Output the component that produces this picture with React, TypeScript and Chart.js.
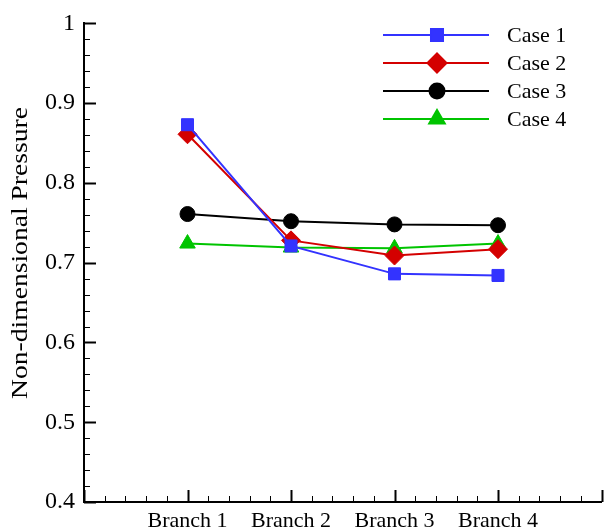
import React, { useEffect, useRef } from "react";
import { Chart, registerables } from "chart.js";
import { drawPoint } from "chart.js/helpers";

Chart.register(...registerables);

const categories = ["Branch 1", "Branch 2", "Branch 3", "Branch 4"];
const seriesNames = ["Case 1", "Case 2", "Case 3", "Case 4"];
const case1 = [0.873, 0.721, 0.686, 0.684];
const case2 = [0.861, 0.728, 0.709, 0.717];
const case3 = [0.761, 0.752, 0.748, 0.747];
const case4 = [0.724, 0.719, 0.718, 0.724];
const yTicks = [0.4, 0.5, 0.6, 0.7, 0.8, 0.9, 1];

const colors = ["#3333ff", "#d40000", "#000000", "#00c400"];
const styles = ["rect", "rectRot", "circle", "triangle"];
const radii = [8.5, 9.5, 7.5, 9];
const FONT = "'Liberation Serif', 'Times New Roman', serif";

const toPoints = (arr: number[]) => arr.map((y, i) => ({ x: i + 1, y }));

const customPlugin = {
  id: "custom",
  afterDraw(chart: any) {
    const ctx = chart.ctx;
    const xs = chart.scales.x;
    const ys = chart.scales.y;
    const area = chart.chartArea;
    ctx.save();
    ctx.strokeStyle = "#000";
    for (let k = 0; k <= 25; k++) {
      const v = k * 0.2;
      const px = Math.round(xs.getPixelForValue(v)) + 0.5;
      const major = k % 5 === 0;
      ctx.lineWidth = major ? 2 : 1;
      ctx.beginPath();
      ctx.moveTo(px, area.bottom);
      ctx.lineTo(px, area.bottom - (major ? 12 : 6));
      ctx.stroke();
    }
    for (let k = 0; k <= 30; k++) {
      const v = 0.4 + k * 0.02;
      const py = Math.round(ys.getPixelForValue(v)) + 0.5;
      const major = k % 5 === 0;
      ctx.lineWidth = major ? 2 : 1;
      ctx.beginPath();
      ctx.moveTo(area.left, py);
      ctx.lineTo(area.left + (major ? 12 : 6), py);
      ctx.stroke();
    }
    ctx.save();
    ctx.translate(27, 253);
    ctx.rotate(-Math.PI / 2);
    ctx.scale(1.2, 1);
    ctx.font = `23px ${FONT}`;
    ctx.fillStyle = "#000";
    ctx.textAlign = "center";
    ctx.textBaseline = "alphabetic";
    ctx.fillText("Non-dimensional Pressure", 0, 0);
    ctx.restore();
    const rows = [35, 63, 91, 119];
    chart.data.datasets.forEach((ds: any, i: number) => {
      const y = rows[i];
      ctx.strokeStyle = ds.borderColor;
      ctx.lineWidth = 2;
      ctx.beginPath();
      ctx.moveTo(383, y);
      ctx.lineTo(489, y);
      ctx.stroke();
      ctx.fillStyle = ds.backgroundColor;
      drawPoint(
        ctx,
        { pointStyle: ds.pointStyle, radius: ds.pointRadius, rotation: 0, borderWidth: 1 },
        437,
        y
      );
      ctx.fillStyle = "#000";
      ctx.font = `22px ${FONT}`;
      ctx.textAlign = "left";
      ctx.textBaseline = "middle";
      ctx.fillText(ds.label, 507, y + 1);
    });
    ctx.restore();
  },
};

export default function App() {
  const ref = useRef<HTMLCanvasElement>(null);
  useEffect(() => {
    document.body.style.margin = "0";
    const allSeries = [case1, case2, case3, case4];
    const chart = new Chart(ref.current as HTMLCanvasElement, {
      type: "line",
      data: {
        datasets: allSeries.map((s, i) => ({
          label: seriesNames[i],
          data: toPoints(s),
          borderColor: colors[i],
          backgroundColor: colors[i],
          pointBackgroundColor: colors[i],
          pointBorderColor: colors[i],
          pointStyle: styles[i] as any,
          pointRadius: radii[i],
          pointBorderWidth: 1,
          borderWidth: 2,
          tension: 0,
        })),
      },
      options: {
        animation: false,
        responsive: false,
        layout: { padding: { top: 20, right: 6, left: 0, bottom: 0 } },
        plugins: { legend: { display: false }, tooltip: { enabled: false } },
        scales: {
          x: {
            type: "linear",
            min: 0,
            max: 5,
            afterFit: (s: any) => {
              s.height = 27;
            },
            afterBuildTicks: (s: any) => {
              s.ticks = [0, 1, 2, 3, 4, 5].map((v) => ({ value: v }));
            },
            ticks: {
              autoSkip: false,
              maxRotation: 0,
              padding: 6,
              color: "#000",
              font: { family: FONT, size: 22 },
              callback: (v: any) => (v >= 1 && v <= 4 ? categories[v - 1] : ""),
            },
            grid: { display: false, drawTicks: false },
            border: { display: true, color: "#000", width: 2 },
          },
          y: {
            type: "linear",
            min: 0.4,
            max: 1,
            afterFit: (s: any) => {
              s.width = 84;
            },
            afterBuildTicks: (s: any) => {
              s.ticks = yTicks.map((v) => ({ value: v }));
            },
            ticks: {
              padding: 9,
              color: "#000",
              font: { family: FONT, size: 24 },
              callback: (v: any) => (Math.abs(v - 1) < 1e-9 ? "1" : Number(v).toFixed(1)),
            },
            grid: { display: false, drawTicks: false },
            border: { display: true, color: "#000", width: 2 },
          },
        },
      },
      plugins: [customPlugin],
    });
    return () => chart.destroy();
  }, []);
  return (
    <div style={{ position: "absolute", left: 0, top: 0, width: 612, height: 529 }}>
      <canvas ref={ref} width={612} height={529} />
    </div>
  );
}
